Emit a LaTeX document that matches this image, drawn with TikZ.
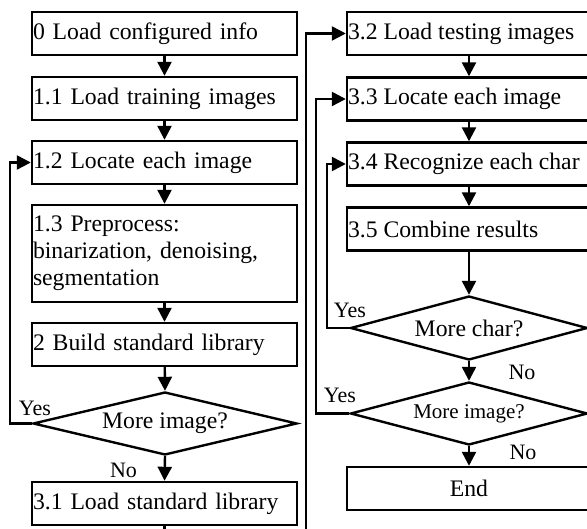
\documentclass[tikz,border=0pt]{standalone}
\usepackage{fontspec}
\setmainfont{Liberation Serif}
\usetikzlibrary{shapes.geometric,arrows.meta}
% text of a box in the testing column, allowed to run past its right edge
\newcommand\rtext[1]{\makebox[242pt][l]{#1}}
\begin{document}
\begin{tikzpicture}[x=1pt,y=-1pt,
  every node/.style={font=\fontsize{23.7}{27}\selectfont},
  procbox/.style={draw, line width=2.4pt, rectangle, inner sep=0pt, minimum height=43pt},
  leftbox/.style={procbox, minimum width=265pt, text width=263pt, align=left},
  rightbox/.style={procbox, minimum width=244pt},
  decision/.style={draw, line width=2.4pt, diamond, aspect=4, inner sep=0pt},
  flow/.style={line width=2.4pt, -{Triangle[width=14pt,length=14pt]}},
  lbl/.style={font=\fontsize{22}{24}\selectfont, inner sep=0pt}
]
\useasboundingbox (0,0) rectangle (587,529);

% training column
\node[leftbox] (b0)  at (164.5, 33.5)  {0 Load configured info};
\node[leftbox] (b11) at (164.5, 98.5)  {1.1 Load training images};
\node[leftbox] (b12) at (164.5, 162.5) {1.2 Locate each image};
\node[leftbox, minimum height=97pt] (b13) at (164.5, 253.5)
  {1.3 Preprocess:\\binarization, denoising,\\segmentation};
\node[leftbox] (b2)  at (164.5, 344.5) {2 Build standard library};
\node[decision, minimum width=264pt, minimum height=63pt] (d1) at (165, 423.5) {More image?};
\node[leftbox] (b31) at (164.5, 503.5) {3.1 Load standard library};

% testing column
\node[rightbox] (b32) at (469, 33.5)  {\rtext{3.2 Load testing images}};
\node[rightbox] (b33) at (469, 99)    {\rtext{3.3 Locate each image}};
\node[rightbox] (b34) at (469, 164)   {\rtext{3.4 Recognize each char}};
\node[rightbox] (b35) at (469, 229)   {\rtext{3.5 Combine results}};
\node[decision, minimum width=237pt, minimum height=64pt] (d2) at (469, 328) {More char?};
\node[decision, minimum width=237pt, minimum height=63pt,
      font=\fontsize{21}{24}\selectfont] (d3) at (469, 413.5) {More image?};
\node[rightbox] (end) at (469, 488.5) {End};

% bend points of the return lines
\coordinate (loopA) at (10, 423.5);
\coordinate (trunk) at (306, 540);
\coordinate (loopB) at (316, 413.5);
\coordinate (loopC) at (327, 328);

% straight flow
\draw[flow] (b0) -- (b11);
\draw[flow] (b11) -- (b12);
\draw[flow] (b12) -- (b13);
\draw[flow] (b13) -- (b2);
\draw[flow] (b2) -- (d1.north);
\draw[flow] (d1.south) -- (b31.north);
\draw[flow] (b31.south) |- (trunk) |- (b32.west);
\draw[flow] (b32) -- (b33);
\draw[flow] (b33) -- (b34);
\draw[flow] (b34) -- (b35);
\draw[flow] (b35) -- (d2.north);
\draw[flow] (d2.south) -- (d3.north);
\draw[flow] (d3.south) -- (end.north);

% loops back
\draw[flow] (d1.west) -- (loopA) |- (b12.west);
\draw[flow] (d3.west) -- (loopB) |- (b33.west);
\draw[flow] (d2.west) -- (loopC) |- (b34.west);

% branch labels
\node[lbl] (y1) at (35, 408) {Yes};
\node[lbl] (n1) at (123.5, 470) {No};
\node[lbl] (y2) at (350, 310) {Yes};
\node[lbl] (y3) at (340, 395) {Yes};
\node[lbl] (n2) at (522, 372) {No};
\node[lbl] (n3) at (523, 452) {No};
\end{tikzpicture}
\end{document}
